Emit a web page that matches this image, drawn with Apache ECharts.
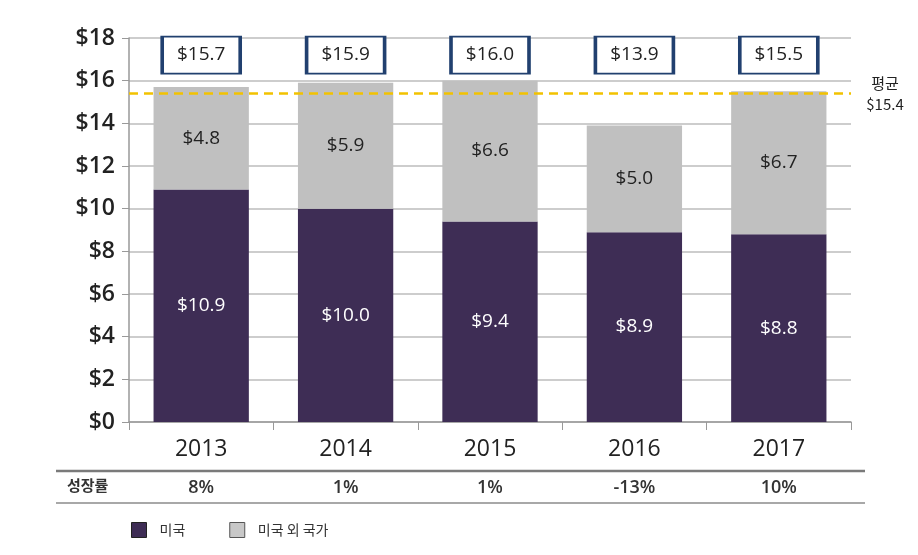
<!DOCTYPE html>
<html><head><meta charset="utf-8">
<script src="https://cdn.jsdelivr.net/npm/echarts@6/dist/echarts.min.js"></script>
<style>html,body{margin:0;padding:0;background:#fff}#c{width:918px;height:555px}</style>
</head><body><div id="c"></div>
<script>
const years = ['2013','2014','2015','2016','2017'];
const usValues = [10.9, 10.0, 9.4, 8.9, 8.8];
const nonUsValues = [4.8, 5.9, 6.6, 5.0, 6.7];
const totals = [15.7, 15.9, 16.0, 13.9, 15.5];
const growth = ['8%', '1%', '1%', '-13%', '10%'];
const average = 15.4;
const yTicks = [0, 2, 4, 6, 8, 10, 12, 14, 16, 18];
const seriesNames = ['미국', '미국 외 국가'];

const BOX_Y = 17.2;
const NUM_FONT = '"Open Sans", "Noto Sans", sans-serif';
const KR_FONT = '"Noto Sans CJK KR", sans-serif';

const chart = echarts.init(document.getElementById('c'), null, {renderer: 'canvas'});
const option = {
  animation: false,
  grid: {left: 129, right: 67, top: 38, bottom: 133},
  legend: {
    left: 126, top: 517, itemWidth: 15, itemHeight: 15, itemGap: 44,
    icon: 'rect',
    textStyle: {fontFamily: KR_FONT, fontSize: 14, color: '#333', padding: [0, 0, 0, 8]},
    data: [
      {name: seriesNames[0], itemStyle: {color: '#3E2D55', borderColor: '#222', borderWidth: 1}},
      {name: seriesNames[1], itemStyle: {color: '#C8C8C8', borderColor: '#555', borderWidth: 1}}
    ]
  },
  xAxis: [{
    type: 'category', data: years, position: 'bottom',
    axisLine: {lineStyle: {color: '#999', width: 1.5}},
    axisTick: {show: true, alignWithLabel: false, length: 8, lineStyle: {color: '#999'}},
    axisLabel: {fontFamily: NUM_FONT, fontSize: 23, color: '#222', margin: 16}
  }, {
    type: 'category', data: growth, position: 'bottom', offset: 57,
    axisLine: {show: false}, axisTick: {show: false},
    axisLabel: {fontFamily: NUM_FONT, fontSize: 18, fontWeight: 600, color: '#333', margin: 0}
  }],
  yAxis: {
    type: 'value', min: yTicks[0], max: yTicks[yTicks.length - 1], interval: 2,
    axisLine: {show: true, lineStyle: {color: '#999', width: 1.5}},
    axisTick: {show: true, length: 7, lineStyle: {color: '#999'}},
    axisLabel: {fontFamily: NUM_FONT, fontSize: 23, fontWeight: 600, color: '#222', margin: 14,
      formatter: v => '$' + v},
    splitLine: {lineStyle: {color: '#BDBDBD', width: 1.5}}
  },
  series: [
    {
      name: seriesNames[0], type: 'bar', stack: 'total', data: usValues, barWidth: '66%',
      itemStyle: {color: '#3E2D55'},
      label: {show: true, position: 'inside', color: '#fff', fontFamily: NUM_FONT, fontSize: 19,
        formatter: p => '$' + p.value.toFixed(1)}
    },
    {
      name: seriesNames[1], type: 'bar', stack: 'total', data: nonUsValues, barWidth: '66%',
      itemStyle: {color: '#C0C0C0'},
      label: {show: true, position: 'inside', color: '#222', fontFamily: NUM_FONT, fontSize: 19,
        formatter: p => '$' + p.value.toFixed(1)},
      markLine: {
        symbol: 'none', silent: true,
        lineStyle: {color: '#F2C200', type: [9, 6], width: 2.5},
        label: {show: true, position: 'end', distance: 34, fontFamily: KR_FONT, fontSize: 15,
          color: '#222', lineHeight: 21, align: 'center', padding: [0, 0, 0, 0],
          formatter: () => '평균\n$' + average.toFixed(1)},
        data: [{yAxis: average}]
      }
    },
    {
      type: 'scatter', symbol: 'rect', symbolSize: [78, 37],
      itemStyle: {color: '#fff', borderColor: '#21406F', borderWidth: 2.5, opacity: 1},
      label: {show: true, position: 'inside', color: '#222', fontFamily: NUM_FONT, fontSize: 19,
        formatter: p => '$' + p.value[2].toFixed(1)},
      data: totals.map((t, i) => [i, BOX_Y, t]),
      z: 5
    }
  ],
  graphic: [
    {type: 'line', shape: {x1: 56, y1: 471, x2: 865, y2: 471}, style: {stroke: '#7A7A7A', lineWidth: 2.5}},
    {type: 'line', shape: {x1: 56, y1: 503, x2: 865, y2: 503}, style: {stroke: '#A8A8A8', lineWidth: 2}},
    {type: 'text', left: 67, top: 478, style: {text: '성장률', font: '600 15px "Noto Sans CJK KR"', fill: '#333'}}
  ]
};
chart.setOption(option);
</script></body></html>
